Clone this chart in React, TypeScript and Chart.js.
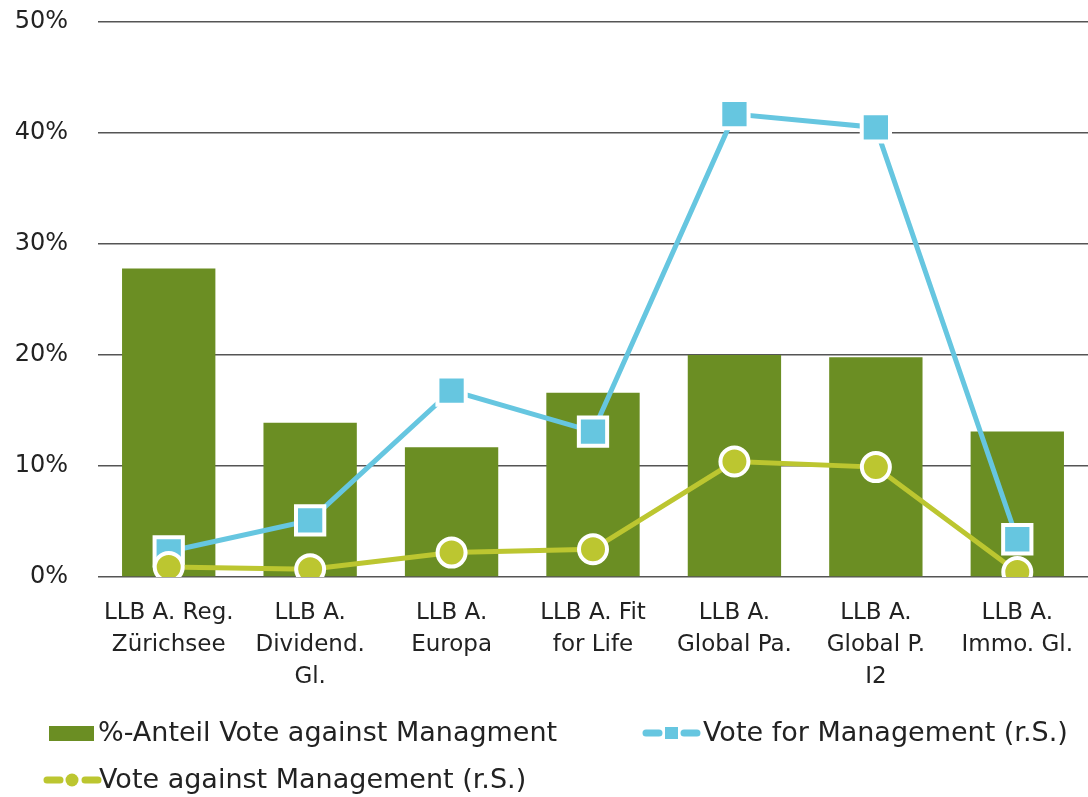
import React, { useEffect, useRef } from "react";
import { Chart, registerables } from "chart.js";

Chart.register(...registerables);

const categories: string[][] = [
  ["LLB A. Reg.", "Zürichsee"],
  ["LLB A.", "Dividend.", "Gl."],
  ["LLB A.", "Europa"],
  ["LLB A. Fit", "for Life"],
  ["LLB A.", "Global Pa."],
  ["LLB A.", "Global P.", "I2"],
  ["LLB A.", "Immo. Gl."],
];

const shareAgainst = [27.8, 13.9, 11.7, 16.6, 20.0, 19.8, 13.1];
const voteFor = [2.3, 5.1, 16.8, 13.1, 41.7, 40.5, 3.4];
const voteAgainst = [0.9, 0.7, 2.2, 2.5, 10.4, 9.9, 0.45];
const yTicks = [0, 10, 20, 30, 40, 50];

const seriesNames = [
  "%-Anteil Vote against Managment",
  "Vote for Management (r.S.)",
  "Vote against Management (r.S.)",
];

const GREEN = "#6B8E23";
const BLUE = "#66C6E0";
const LIME = "#BCC630";
const FONT = "'DejaVu Sans', sans-serif";

const legendPlugin = {
  id: "customLegend",
  afterDraw(chart: any) {
    const ctx = chart.ctx;
    ctx.save();
    ctx.font = `27px ${FONT}`;
    ctx.textBaseline = "middle";
    ctx.textAlign = "left";
    ctx.fillStyle = GREEN;
    ctx.fillRect(49, 726, 45, 15);
    ctx.fillStyle = "#222";
    ctx.fillText(seriesNames[0], 98, 734);
    const drawLineIcon = (x: number, y: number, color: string, square: boolean) => {
      ctx.strokeStyle = color;
      ctx.lineWidth = 7;
      ctx.lineCap = "round";
      ctx.beginPath();
      ctx.moveTo(x + 3, y);
      ctx.lineTo(x + 16, y);
      ctx.moveTo(x + 41, y);
      ctx.lineTo(x + 54, y);
      ctx.stroke();
      ctx.fillStyle = color;
      if (square) {
        ctx.fillRect(x + 22, y - 6, 13, 12);
      } else {
        ctx.beginPath();
        ctx.arc(x + 28, y, 6.5, 0, Math.PI * 2);
        ctx.fill();
      }
    };
    drawLineIcon(643, 733, BLUE, true);
    ctx.fillStyle = "#222";
    ctx.fillText(seriesNames[1], 703, 734);
    drawLineIcon(44, 780, LIME, false);
    ctx.fillStyle = "#222";
    ctx.fillText(seriesNames[2], 99, 781);
    ctx.restore();
  },
};

export default function App() {
  const ref = useRef<HTMLCanvasElement | null>(null);
  useEffect(() => {
    if (!ref.current) return;
    const chart = new Chart(ref.current, {
      type: "bar",
      data: {
        labels: categories,
        datasets: [
          {
            type: "line",
            label: seriesNames[2],
            data: voteAgainst,
            borderColor: LIME,
            backgroundColor: LIME,
            borderWidth: 5,
            pointStyle: "circle",
            pointRadius: 14,
            pointBorderColor: "#ffffff",
            pointBorderWidth: 4,
            pointBackgroundColor: LIME,
            yAxisID: "y1",
            order: 1,
          } as any,
          {
            type: "line",
            label: seriesNames[1],
            data: voteFor,
            borderColor: BLUE,
            backgroundColor: BLUE,
            borderWidth: 5,
            pointStyle: "rect",
            pointRadius: 20,
            pointBorderColor: "#ffffff",
            pointBorderWidth: 4,
            pointBackgroundColor: BLUE,
            yAxisID: "y1",
            order: 2,
          } as any,
          {
            type: "bar",
            label: seriesNames[0],
            data: shareAgainst,
            backgroundColor: GREEN,
            categoryPercentage: 1,
            barPercentage: 0.66,
            yAxisID: "y",
            order: 3,
          },
        ],
      },
      options: {
        responsive: false,
        animation: false,
        maintainAspectRatio: false,
        layout: { autoPadding: false, padding: { top: 22, right: 0, bottom: 100, left: 0 } },
        plugins: {
          legend: { display: false },
          tooltip: { enabled: false },
        },
        scales: {
          x: {
            grid: { display: false },
            border: { display: false },
            ticks: {
              color: "#222",
              font: { family: FONT, size: 23, lineHeight: 1.4 },
              padding: 12,
              maxRotation: 0,
              autoSkip: false,
            },
            afterFit: (s: any) => {
              s.height = 120;
              s.paddingLeft = 0;
              s.paddingRight = 0;
            },
          },
          y: {
            min: 0,
            max: 50,
            afterBuildTicks: (s: any) => {
              s.ticks = yTicks.map((v) => ({ value: v }));
            },
            grid: { color: "#555", lineWidth: 1.5, drawTicks: false },
            border: { display: false },
            ticks: {
              color: "#222",
              font: { family: FONT, size: 24 },
              padding: 30,
              callback: (v: any) => `${v}%`,
            },
            afterFit: (s: any) => {
              s.width = 98;
              s.paddingTop = 0;
              s.paddingBottom = 0;
            },
          },
          y1: {
            display: false,
            min: 0,
            max: 50,
          },
        },
      },
      plugins: [legendPlugin],
    });
    return () => chart.destroy();
  }, []);
  return (
    <div style={{ position: "absolute", left: 0, top: 0, width: 1088, height: 797, background: "#fff" }}>
      <canvas ref={ref} width={1088} height={797} style={{ display: "block" }} />
    </div>
  );
}
